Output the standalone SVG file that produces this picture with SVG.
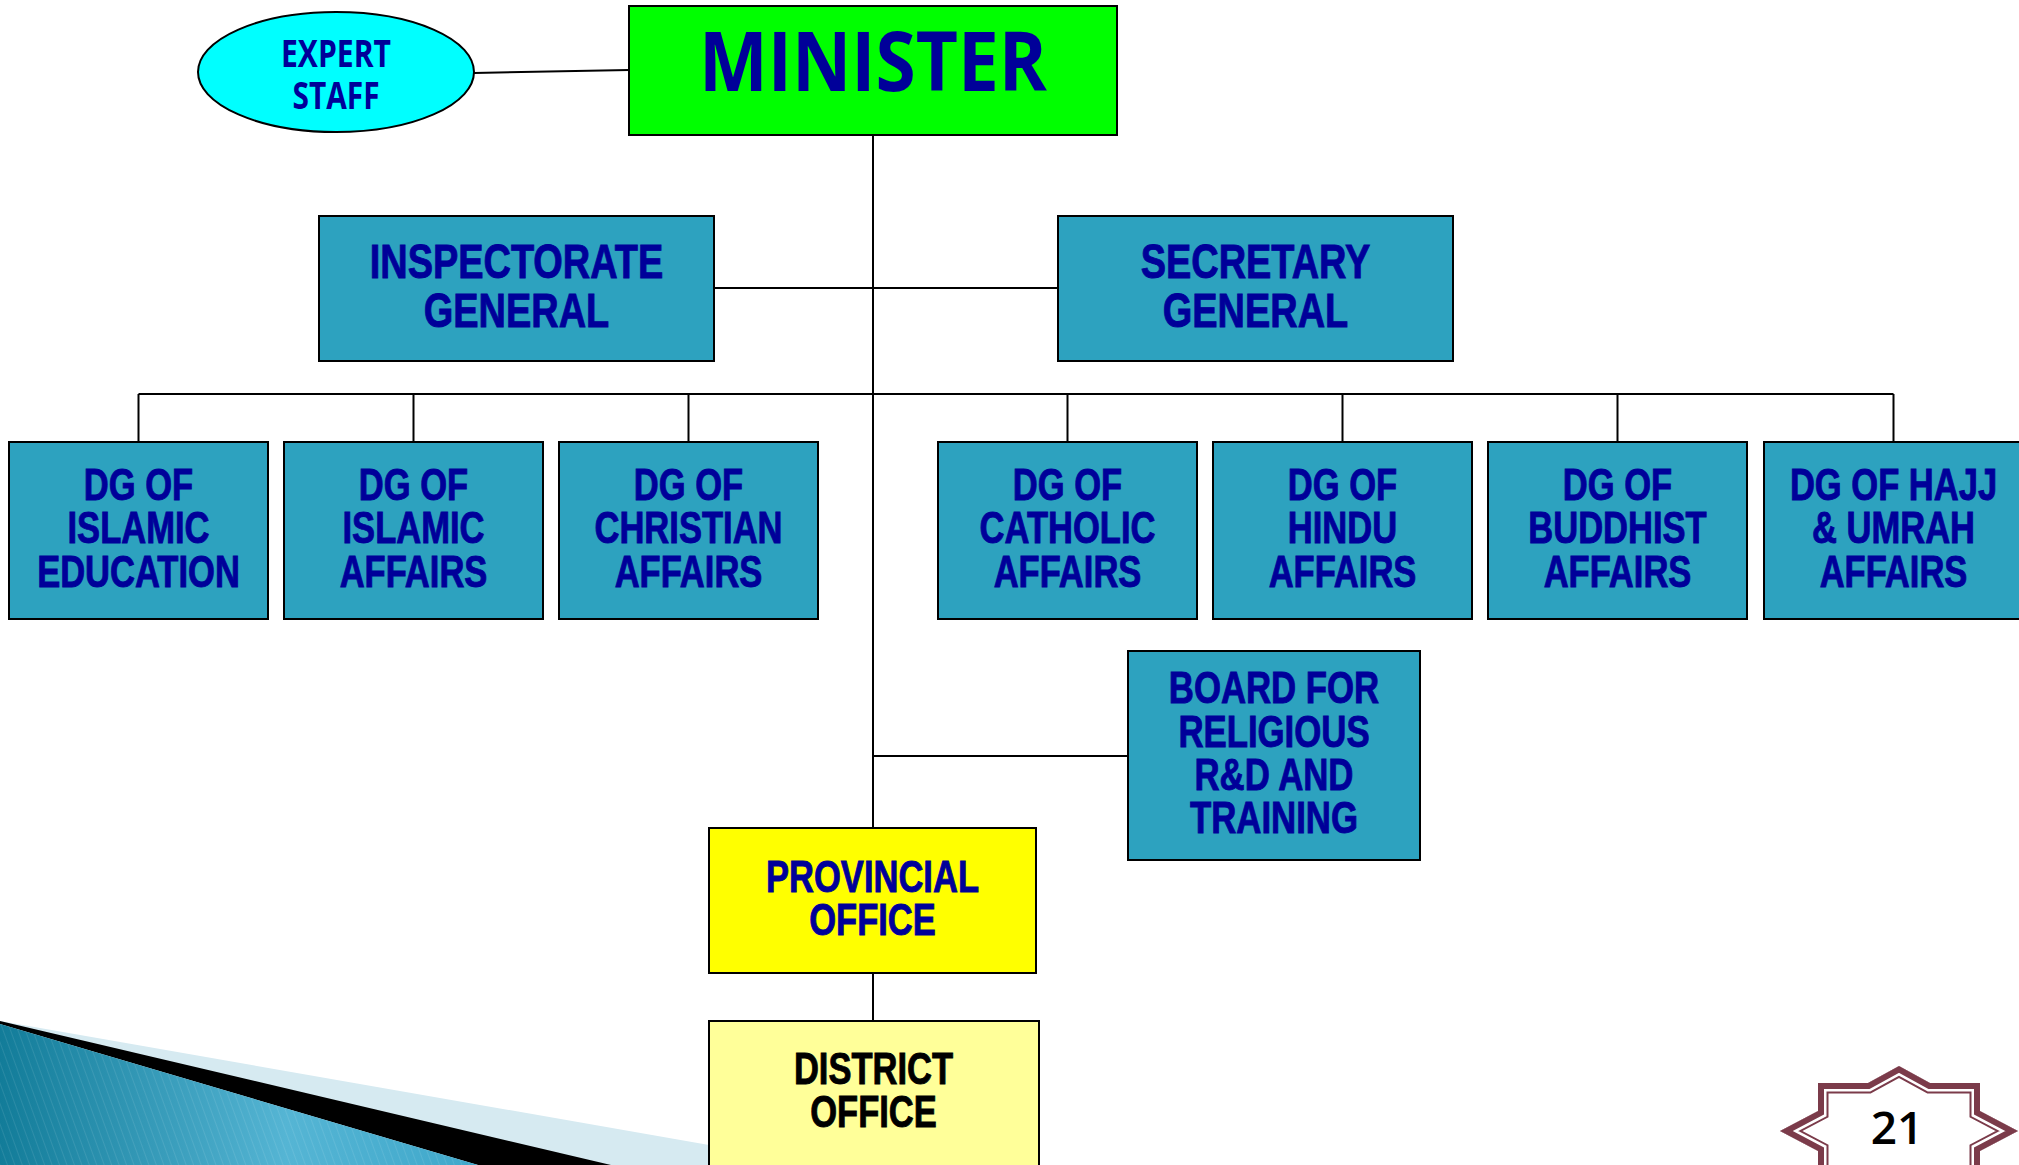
<svg xmlns="http://www.w3.org/2000/svg" width="2019" height="1165" viewBox="0 0 2019 1165">
<style>
.box{stroke:#000;stroke-width:2}
.teal{fill:#2DA2BF}
.t{font-family:"Liberation Sans",Arial,sans-serif;font-weight:bold;font-size:44px;fill:#000099;stroke:#000099;stroke-width:0.9;text-anchor:middle}
.big{font-size:48px}
.blk{fill:#000;stroke:#000}
.h{font-family:"Open Sans","DejaVu Sans",sans-serif;font-weight:700;fill:#000099;text-anchor:middle}
.c{stroke:#000;stroke-width:2;fill:none}
</style>
<defs>
<linearGradient id="blueGrad" x1="0" y1="0" x2="1" y2="0">
<stop offset="0" stop-color="#127C99"/>
<stop offset="0.6" stop-color="#55B5D4"/>
<stop offset="1" stop-color="#3FA8CB"/>
</linearGradient>
<pattern id="stripes" width="7" height="7" patternUnits="userSpaceOnUse" patternTransform="rotate(-20)">
<line x1="0" y1="0" x2="0" y2="7" stroke="#ffffff" stroke-opacity="0.12" stroke-width="1.5"/>
</pattern>
<path id="starPath" d="M1899 1066 L1930 1083 L1980 1083 L1980 1111 L2018 1131 L1980 1151 L1980 1179 L1930 1179 L1899 1196 L1868 1179 L1818 1179 L1818 1151 L1780 1131 L1818 1111 L1818 1083 L1868 1083 Z"/>
<clipPath id="starClip"><use href="#starPath"/></clipPath>
</defs>
<rect width="2019" height="1165" fill="#fff"/>

<g id="decoration">
<polygon points="0,1021 709,1145 709,1165 0,1165" fill="#D6EAF1"/>
<polygon points="0,1021 611,1165 478,1165 0,1024" fill="#000"/>
<polygon points="0,1024 478,1165 0,1165" fill="url(#blueGrad)"/>
<polygon points="0,1024 478,1165 0,1165" fill="url(#stripes)"/>
</g>

<g id="connectors">
<line class="c" x1="474" y1="73" x2="629" y2="70"/>
<line class="c" x1="873" y1="135" x2="873" y2="828"/>
<line class="c" x1="714" y1="288" x2="1058" y2="288"/>
<line class="c" x1="138.5" y1="394" x2="1893.5" y2="394"/>
<line class="c" x1="138.5" y1="394" x2="138.5" y2="442"/>
<line class="c" x1="413.5" y1="394" x2="413.5" y2="442"/>
<line class="c" x1="688.5" y1="394" x2="688.5" y2="442"/>
<line class="c" x1="1067.5" y1="394" x2="1067.5" y2="442"/>
<line class="c" x1="1342.5" y1="394" x2="1342.5" y2="442"/>
<line class="c" x1="1617.5" y1="394" x2="1617.5" y2="442"/>
<line class="c" x1="1893.5" y1="394" x2="1893.5" y2="442"/>
<line class="c" x1="873" y1="756" x2="1128" y2="756"/>
<line class="c" x1="873" y1="973" x2="873" y2="1021"/>
</g>

<g id="expert-staff">
<ellipse cx="336" cy="72" rx="138" ry="60" fill="#00FFFF" stroke="#000" stroke-width="2"/>
<text class="h" font-size="37" x="336" y="67" textLength="110" lengthAdjust="spacingAndGlyphs">EXPERT</text>
<text class="h" font-size="37" x="336" y="109" textLength="87" lengthAdjust="spacingAndGlyphs">STAFF</text>
</g>

<g id="minister">
<rect class="box" x="629" y="6" width="488" height="129" fill="#00FF00"/>
<text class="h" font-size="83" x="873" y="91" textLength="348" lengthAdjust="spacingAndGlyphs">MINISTER</text>
</g>

<g id="inspectorate-general">
<rect class="box teal" x="319" y="216" width="395" height="145"/>
<text class="t big" transform="translate(516.5 0) scale(0.79 1)"><tspan x="0" y="278">INSPECTORATE</tspan><tspan x="0" y="327">GENERAL</tspan></text>
</g>

<g id="secretary-general">
<rect class="box teal" x="1058" y="216" width="395" height="145"/>
<text class="t big" transform="translate(1255.5 0) scale(0.79 1)"><tspan x="0" y="278">SECRETARY</tspan><tspan x="0" y="327">GENERAL</tspan></text>
</g>

<g id="dg-islamic-education">
<rect class="box teal" x="9" y="442" width="259" height="177"/>
<text class="t" transform="translate(138.5 0) scale(0.785 1)"><tspan x="0" y="500">DG OF</tspan><tspan x="0" y="543">ISLAMIC</tspan><tspan x="0" y="587">EDUCATION</tspan></text>
</g>

<g id="dg-islamic-affairs">
<rect class="box teal" x="284" y="442" width="259" height="177"/>
<text class="t" transform="translate(413.5 0) scale(0.785 1)"><tspan x="0" y="500">DG OF</tspan><tspan x="0" y="543">ISLAMIC</tspan><tspan x="0" y="587">AFFAIRS</tspan></text>
</g>

<g id="dg-christian-affairs">
<rect class="box teal" x="559" y="442" width="259" height="177"/>
<text class="t" transform="translate(688.5 0) scale(0.785 1)"><tspan x="0" y="500">DG OF</tspan><tspan x="0" y="543">CHRISTIAN</tspan><tspan x="0" y="587">AFFAIRS</tspan></text>
</g>

<g id="dg-catholic-affairs">
<rect class="box teal" x="938" y="442" width="259" height="177"/>
<text class="t" transform="translate(1067.5 0) scale(0.785 1)"><tspan x="0" y="500">DG OF</tspan><tspan x="0" y="543">CATHOLIC</tspan><tspan x="0" y="587">AFFAIRS</tspan></text>
</g>

<g id="dg-hindu-affairs">
<rect class="box teal" x="1213" y="442" width="259" height="177"/>
<text class="t" transform="translate(1342.5 0) scale(0.785 1)"><tspan x="0" y="500">DG OF</tspan><tspan x="0" y="543">HINDU</tspan><tspan x="0" y="587">AFFAIRS</tspan></text>
</g>

<g id="dg-buddhist-affairs">
<rect class="box teal" x="1488" y="442" width="259" height="177"/>
<text class="t" transform="translate(1617.5 0) scale(0.785 1)"><tspan x="0" y="500">DG OF</tspan><tspan x="0" y="543">BUDDHIST</tspan><tspan x="0" y="587">AFFAIRS</tspan></text>
</g>

<g id="dg-hajj-umrah-affairs">
<rect class="box teal" x="1764" y="442" width="259" height="177"/>
<text class="t" transform="translate(1893.5 0) scale(0.785 1)"><tspan x="0" y="500">DG OF HAJJ</tspan><tspan x="0" y="543">&amp; UMRAH</tspan><tspan x="0" y="587">AFFAIRS</tspan></text>
</g>

<g id="board-religious-rd-training">
<rect class="box teal" x="1128" y="651" width="292" height="209"/>
<text class="t" transform="translate(1274 0) scale(0.79 1)"><tspan x="0" y="703">BOARD FOR</tspan><tspan x="0" y="747">RELIGIOUS</tspan><tspan x="0" y="790">R&amp;D AND</tspan><tspan x="0" y="833">TRAINING</tspan></text>
</g>

<g id="provincial-office">
<rect class="box" x="709" y="828" width="327" height="145" fill="#FFFF00"/>
<text class="t" transform="translate(872.5 0) scale(0.785 1)"><tspan x="0" y="892">PROVINCIAL</tspan><tspan x="0" y="935">OFFICE</tspan></text>
</g>

<g id="district-office">
<rect class="box" x="709" y="1021" width="330" height="160" fill="#FFFF99"/>
<text class="t blk" transform="translate(873.5 0) scale(0.785 1)"><tspan x="0" y="1084">DISTRICT</tspan><tspan x="0" y="1127">OFFICE</tspan></text>
</g>

<g id="page-number">
<use href="#starPath" fill="#fff"/>
<g clip-path="url(#starClip)" fill="none" stroke-linejoin="miter" stroke-miterlimit="20">
<use href="#starPath" stroke="#7B3B4A" stroke-width="21"/>
<use href="#starPath" stroke="#fff" stroke-width="17"/>
<use href="#starPath" stroke="#7B3B4A" stroke-width="12"/>
</g>
<text x="1897" y="1144" font-family="'Open Sans','DejaVu Sans',sans-serif" font-size="46" font-weight="600" fill="#000" text-anchor="middle">21</text>
</g>
</svg>
